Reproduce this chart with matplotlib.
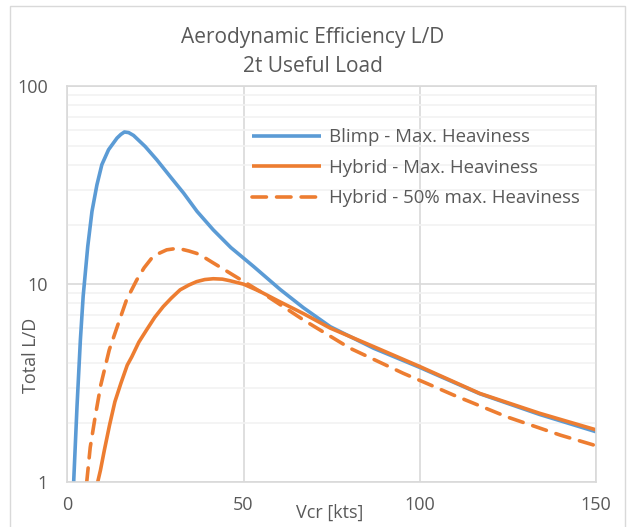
import matplotlib
matplotlib.use("Agg")
import matplotlib.pyplot as plt
from matplotlib.patches import Rectangle
from matplotlib.ticker import FixedLocator, NullFormatter

# values (Vcr in kts, Total L/D)
blimp_x = [1.8, 2.75, 3.7, 4.5, 5.8, 7.0, 8.4, 9.8, 11.7, 14.1, 15.2, 16.2, 17.4,
           18.8, 22.1, 25.4, 29.2, 33.0, 36.8, 41.4, 46.4, 52.8, 60.4, 67.0, 74.6,
           86.9, 100, 117, 134, 150]
blimp_ld = [1.0, 2.41, 5.2, 8.7, 15.5, 23.3, 31.7, 40.1, 47.7, 54.6, 57.0, 58.6, 58.2,
            56.3, 49.5, 42.4, 34.9, 28.8, 23.3, 18.8, 15.3, 12.3, 9.4, 7.6, 6.1,
            4.75, 3.8, 2.8, 2.2, 1.80]

hybrid_x = [8.6, 9.4, 10.5, 12.0, 13.5, 15.2, 17.0, 18.3, 20.3, 22.5, 24.8, 27.2,
            29.5, 32.0, 34.5, 36.7, 39.0, 41.4, 44.0, 46.2, 50.0, 54.7, 60.0, 67.0,
            74.6, 86.9, 100, 117, 134, 150]
hybrid_ld = [1.0, 1.15, 1.45, 1.95, 2.55, 3.16, 3.9, 4.3, 5.1, 5.88, 6.8, 7.7,
             8.5, 9.36, 9.9, 10.3, 10.55, 10.65, 10.6, 10.4, 10.0, 9.18, 8.2, 7.1,
             6.0, 4.84, 3.84, 2.81, 2.23, 1.84]

hybrid50_x = [5.5, 6.5, 7.9, 9.5, 11.9, 14.5, 16.8, 19.7, 21.8, 23.9, 26.0, 28.2,
              30.5, 32.5, 34.5, 36.7, 39.0, 41.4, 44.0, 47.1, 54.7, 67.0, 80.2,
              95.3, 103, 109.5, 124.7, 139.9, 150]
hybrid50_ld = [1.0, 1.5, 2.14, 3.1, 4.66, 6.35, 8.33, 10.5, 12.1, 13.5, 14.3, 14.9,
               15.1, 15.0, 14.7, 14.3, 13.6, 12.8, 12.0, 11.1, 9.18, 6.6, 4.75,
               3.55, 3.1, 2.76, 2.14, 1.73, 1.53]

x_ticks = [0, 50, 100, 150]
y_ticks = [1, 10, 100]

BLUE = "#5B9BD5"
ORANGE = "#ED7D31"
TXT = "#595959"
GRID = "#d9d9d9"

plt.rcParams["font.family"] = ["Open Sans", "DejaVu Sans"]

fig = plt.figure(figsize=(6.35, 5.27), dpi=100)
ax = fig.add_axes([0.106, 0.0848, 0.8326, 0.752])

# outer chart border
fig.patches.append(Rectangle((10 / 635, -0.05), 615 / 635, 1 - 6 / 527 + 0.05,
                             transform=fig.transFigure, fill=False,
                             edgecolor=GRID, lw=1))

ax.plot(blimp_x, blimp_ld, color=BLUE, lw=2.6, label="Blimp - Max. Heaviness",
        solid_capstyle="butt", solid_joinstyle="round")
ax.plot(hybrid_x, hybrid_ld, color=ORANGE, lw=2.6, label="Hybrid - Max. Heaviness",
        solid_capstyle="butt", solid_joinstyle="round")
ax.plot(hybrid50_x, hybrid50_ld, color=ORANGE, lw=2.6, dashes=(4, 2.8),
        label="Hybrid - 50% max. Heaviness", dash_capstyle="round")

ax.set_yscale("log")
ax.set_xlim(0, 150)
ax.set_ylim(1, 100)
ax.set_xticks(x_ticks)
ax.set_xticklabels([str(v) for v in x_ticks])
ax.yaxis.set_major_locator(FixedLocator(y_ticks))
ax.set_yticklabels([str(v) for v in y_ticks])
ax.yaxis.set_minor_locator(FixedLocator([m * d for d in (1, 10) for m in range(2, 10)]))
ax.yaxis.set_minor_formatter(NullFormatter())
ax.tick_params(which="both", length=0, colors=TXT, labelsize=13)
ax.tick_params(axis="x", pad=10)
ax.tick_params(axis="y", pad=14)

ax.grid(True, which="major", color=GRID, lw=1.2)
ax.grid(True, which="minor", axis="y", color="#f2f2f2", lw=1.2)
ax.set_axisbelow(True)
for s in ax.spines.values():
    s.set_color(GRID)
    s.set_linewidth(1.2)

ax.set_xlabel("Vcr [kts]", color=TXT, fontsize=13)
ax.set_ylabel("Total L/D", color=TXT, fontsize=13)
ax.xaxis.set_label_coords(0.497, -0.053)
ax.yaxis.set_label_coords(-0.052, 0.321)

fig.text(0.493, 1 - 38 / 527, "Aerodynamic Efficiency L/D", ha="center", va="center",
         color=TXT, fontsize=15)
fig.text(0.493, 1 - 66 / 527, "2t Useful Load", ha="center", va="center",
         color=TXT, fontsize=15)

leg = ax.legend(loc="upper left", bbox_to_anchor=(0.336, 0.912), frameon=False,
                fontsize=13.4, handlelength=3.7, labelspacing=0.67, handletextpad=0.43,
                labelcolor=TXT, borderaxespad=0)

fig.savefig("out.png", dpi=100)
